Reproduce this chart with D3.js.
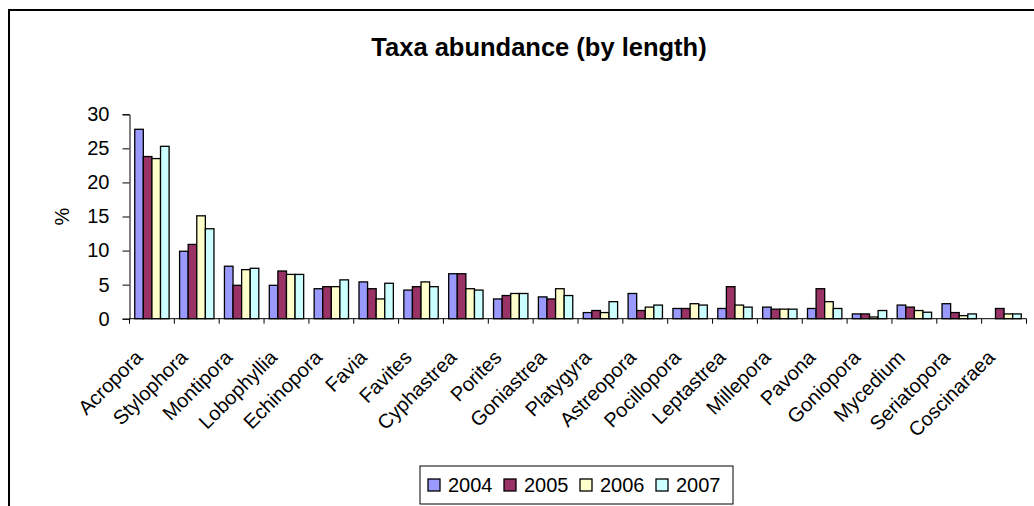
<!DOCTYPE html>
<html>
<head>
<meta charset="utf-8">
<script src="https://cdn.jsdelivr.net/npm/d3@7"></script>
<style>
  html, body { margin: 0; padding: 0; background: #fff; }
  svg { display: block; font-family: "Liberation Sans", Arial, sans-serif; }
</style>
</head>
<body>
<svg id="chart" width="1034" height="506"></svg>
<script>
// Coral genera, ordered by overall abundance
const taxa = ["Acropora", "Stylophora", "Montipora", "Lobophyllia", "Echinopora",
  "Favia", "Favites", "Cyphastrea", "Porites", "Goniastrea", "Platygyra",
  "Astreopora", "Pocillopora", "Leptastrea", "Millepora", "Pavona",
  "Goniopora", "Mycedium", "Seriatopora", "Coscinaraea"];

const years = ["2004", "2005", "2006", "2007"];

// Percentage of total length per survey year
const v2004 = [27.8, 9.9, 7.7, 4.9, 4.4, 5.4, 4.2, 6.6, 2.9, 3.2, 0.9, 3.7, 1.5, 1.5, 1.7, 1.5, 0.7, 2.0, 2.2, 0.0];
const v2005 = [23.8, 10.9, 4.9, 7.0, 4.7, 4.4, 4.7, 6.6, 3.4, 2.9, 1.2, 1.2, 1.5, 4.7, 1.4, 4.4, 0.7, 1.7, 0.9, 1.5];
const v2006 = [23.5, 15.1, 7.2, 6.5, 4.7, 2.9, 5.4, 4.4, 3.7, 4.4, 0.9, 1.7, 2.2, 2.0, 1.4, 2.5, 0.25, 1.2, 0.45, 0.7];
const v2007 = [25.3, 13.2, 7.4, 6.5, 5.7, 5.2, 4.7, 4.2, 3.7, 3.4, 2.5, 2.0, 2.0, 1.7, 1.4, 1.5, 1.2, 0.95, 0.7, 0.7];

const yTicks = [0, 5, 10, 15, 20, 25, 30];
const colors = ["#9999FF", "#993366", "#FFFFCC", "#CCFFFF"];

const series = [v2004, v2005, v2006, v2007];
const rows = taxa.map((t, i) => ({ taxon: t, values: years.map((y, k) => ({ year: y, value: series[k][i] })) }));

const svg = d3.select("#chart");

// Outer chart frame
svg.append("rect")
  .attr("x", 9).attr("y", 10)
  .attr("width", 1060).attr("height", 540)
  .attr("fill", "none").attr("stroke", "#000").attr("stroke-width", 2);

const plot = { left: 129.5, right: 1026.5, top: 114.3, bottom: 318.7 };

const x = d3.scaleBand().domain(taxa).range([plot.left, plot.right]).padding(0);
const xi = d3.scaleBand().domain(years).range([0, x.bandwidth()]).paddingInner(0).paddingOuter(0.61);
const y = d3.scaleLinear().domain([0, 30]).range([plot.bottom, plot.top]);
const color = d3.scaleOrdinal().domain(years).range(colors);

// Title
svg.append("text")
  .attr("x", 539).attr("y", 56)
  .attr("text-anchor", "middle")
  .attr("font-size", 25.5).attr("font-weight", "bold")
  .text("Taxa abundance (by length)");

// Bars
const groups = svg.append("g").selectAll("g").data(rows).join("g")
  .attr("transform", d => `translate(${x(d.taxon)},0)`);
groups.selectAll("rect").data(d => d.values.filter(v => v.value > 0)).join("rect")
  .attr("x", d => xi(d.year))
  .attr("y", d => y(d.value))
  .attr("width", xi.bandwidth())
  .attr("height", d => y(0) - y(d.value))
  .attr("fill", d => color(d.year))
  .attr("stroke", "#000").attr("stroke-width", 1.3);

// Y axis
const yAxis = svg.append("g")
  .attr("transform", `translate(${plot.left},0)`)
  .call(d3.axisLeft(y).tickValues(yTicks).tickSize(7).tickPadding(13));
yAxis.select(".domain").attr("stroke", "#000");
yAxis.selectAll(".tick line").attr("stroke", "#000");
yAxis.selectAll(".tick text").attr("font-size", 20).attr("fill", "#000")
  .attr("font-family", "Liberation Sans, Arial, sans-serif");

// X axis: ticks mark category boundaries
const xAxis = svg.append("g").attr("transform", `translate(0,${plot.bottom})`);
xAxis.append("line")
  .attr("x1", plot.left).attr("x2", plot.right)
  .attr("stroke", "#000");
xAxis.selectAll("line.tk").data(taxa.concat(["end"])).join("line")
  .attr("class", "tk")
  .attr("x1", (d, i) => plot.left + i * x.step())
  .attr("x2", (d, i) => plot.left + i * x.step())
  .attr("y1", 0).attr("y2", 5)
  .attr("stroke", "#000");

// Rotated category labels
svg.append("g").selectAll("text").data(taxa).join("text")
  .attr("transform", d => `translate(${x(d) + x.bandwidth() / 2 - 8},${plot.bottom + 40}) rotate(-45)`)
  .attr("text-anchor", "end")
  .attr("font-size", 20)
  .text(d => d);

// Y axis title
svg.append("text")
  .attr("transform", `translate(69,${(plot.top + plot.bottom) / 2}) rotate(-90)`)
  .attr("text-anchor", "middle")
  .attr("font-size", 20)
  .text("%");

// Legend
const legend = svg.append("g").attr("transform", "translate(420,466)");
legend.append("rect")
  .attr("width", 313).attr("height", 38)
  .attr("fill", "#fff").attr("stroke", "#000").attr("stroke-width", 1);
const items = legend.selectAll("g").data(years).join("g")
  .attr("transform", (d, i) => `translate(8,0) translate(${i * 76},0)`);
items.append("rect")
  .attr("x", 0).attr("y", 13)
  .attr("width", 12).attr("height", 12)
  .attr("fill", d => color(d)).attr("stroke", "#000").attr("stroke-width", 1.3);
items.append("text")
  .attr("x", 20).attr("y", 26)
  .attr("font-size", 20)
  .text(d => d);
</script>
</body>
</html>
